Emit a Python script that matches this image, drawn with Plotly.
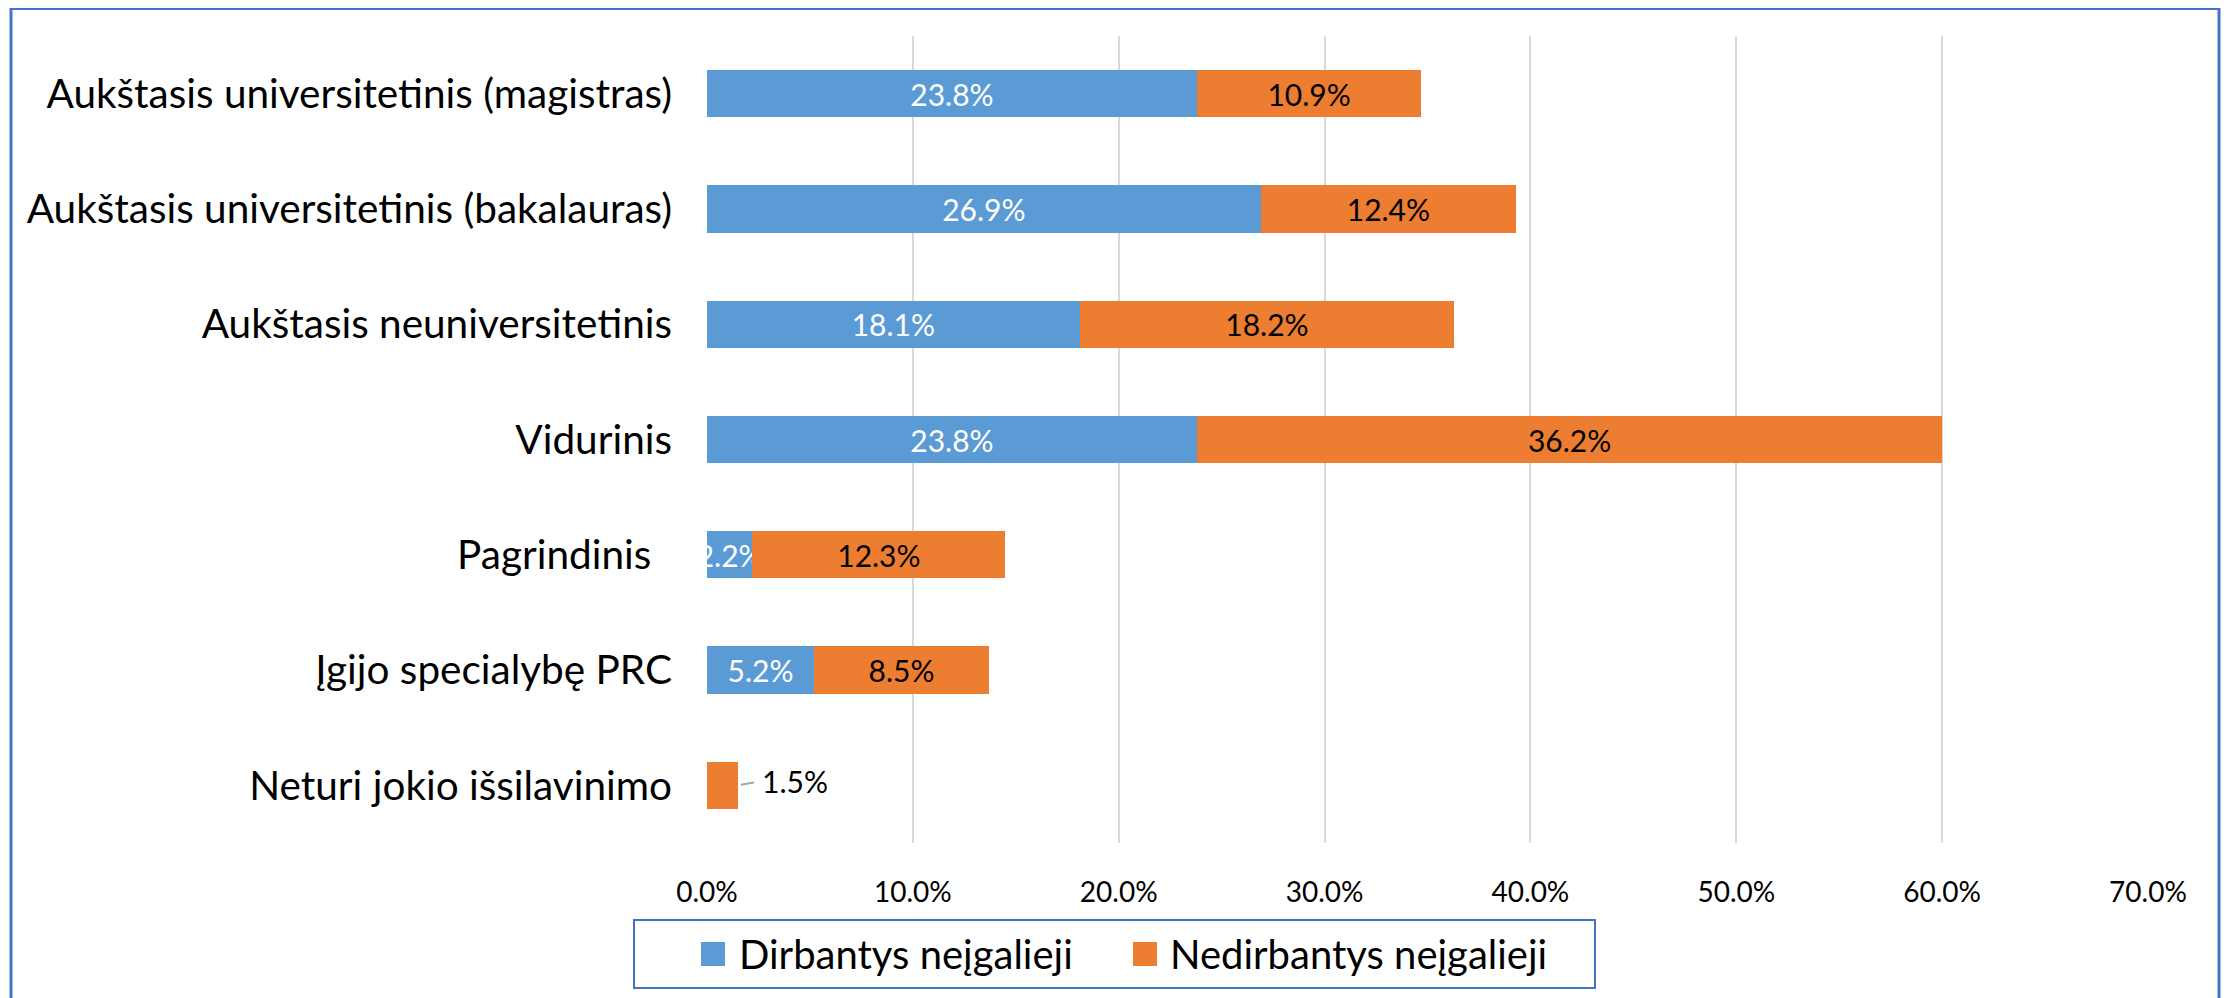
import plotly.graph_objects as go

categories = [
    "Neturi jokio išsilavinimo",
    "Įgijo specialybę PRC",
    "Pagrindinis",
    "Vidurinis",
    "Aukštasis neuniversitetinis",
    "Aukštasis universitetinis (bakalauras)",
    "Aukštasis universitetinis (magistras)",
]
tick_text = [
    "Neturi jokio išsilavinimo",
    "Įgijo specialybę PRC",
    "Pagrindinis\u00a0\u00a0",
    "Vidurinis",
    "Aukštasis neuniversitetinis",
    "Aukštasis universitetinis (bakalauras)",
    "Aukštasis universitetinis (magistras)",
]
dirbantys = [0.0, 5.2, 2.2, 23.8, 18.1, 26.9, 23.8]
nedirbantys = [1.5, 8.5, 12.3, 36.2, 18.2, 12.4, 10.9]
series_names = ["Dirbantys neįgalieji", "Nedirbantys neįgalieji"]
x_ticks = [0, 10, 20, 30, 40, 50, 60, 70]
x_tick_text = ["0.0%", "10.0%", "20.0%", "30.0%", "40.0%", "50.0%", "60.0%", "70.0%"]

FONT = "Lato"
BLUE = "#5B9BD5"
ORANGE = "#ED7D31"
BORDER = "#4472C4"

def labels(vals, outside_small=False):
    out = []
    for v in vals:
        if v == 0 or (outside_small and v < 2):
            out.append("")
        else:
            out.append(f"{v:.1f}%")
    return out

# figure geometry (page body has an 8px margin)
W, H = 2223, 990
L, T = 699, 28
PLOT_RIGHT, PLOT_BOTTOM = 2140, 835
R, B = W - PLOT_RIGHT, H - PLOT_BOTTOM
pw, ph = PLOT_RIGHT - L, PLOT_BOTTOM - T

def px_x(p):
    return (p - L) / pw

def px_y(p):
    return (PLOT_BOTTOM - p) / ph

fig = go.Figure()
fig.add_trace(go.Bar(
    y=categories, x=dirbantys, orientation="h", name=series_names[0],
    marker=dict(color=BLUE, line=dict(width=0)),
    text=labels(dirbantys), textposition="inside", insidetextanchor="middle",
    textangle=0, constraintext="none",
    textfont=dict(family=FONT, size=30, color="white"),
    showlegend=False,
))
fig.add_trace(go.Bar(
    y=categories, x=nedirbantys, orientation="h", name=series_names[1],
    marker=dict(color=ORANGE, line=dict(width=0)),
    text=labels(nedirbantys, outside_small=True), textposition="inside",
    insidetextanchor="middle", textangle=0, constraintext="none",
    textfont=dict(family=FONT, size=30, color="black"),
    showlegend=False,
))

# outside label with leader line for the tiny bar
for c, d, n in zip(categories, dirbantys, nedirbantys):
    if n < 2:
        fig.add_annotation(
            x=d + n, y=c, xref="x", yref="y", text=f"{n:.1f}%",
            showarrow=True, arrowhead=0, arrowwidth=2, arrowcolor="#A6A6A6",
            ax=22, ay=-4, xanchor="left", standoff=3, startstandoff=6,
            font=dict(family=FONT, size=30, color="black"),
        )

# outer chart border
fig.add_shape(type="rect", xref="paper", yref="paper",
              x0=px_x(3), x1=px_x(2211), y0=px_y(1000), y1=px_y(0.5),
              line=dict(color=BORDER, width=3), fillcolor="rgba(0,0,0,0)",
              layer="above")

# legend (drawn manually to match the square swatches)
fig.add_shape(type="rect", xref="paper", yref="paper",
              x0=px_x(626), x1=px_x(1587), y0=px_y(980), y1=px_y(912),
              line=dict(color=BORDER, width=2), fillcolor="white")
swatch_x = [693, 1125]
text_x = [729, 1160]
for name, col, sx, tx in zip(series_names, [BLUE, ORANGE], swatch_x, text_x):
    fig.add_shape(type="rect", xref="paper", yref="paper",
                  x0=px_x(sx), x1=px_x(sx + 24), y0=px_y(958), y1=px_y(934),
                  line=dict(width=0), fillcolor=col)
    fig.add_annotation(xref="paper", yref="paper", x=px_x(tx), y=px_y(946),
                       xanchor="left", yanchor="middle", showarrow=False,
                       text=name, font=dict(family=FONT, size=40, color="black"))

fig.update_layout(
    width=W, height=H,
    margin=dict(l=L, r=R, t=T, b=B, autoexpand=False),
    barmode="stack", bargap=0.59,
    plot_bgcolor="white", paper_bgcolor="white",
    font=dict(family=FONT, color="black"),
    showlegend=False,
    xaxis=dict(
        range=[0, 70], tickvals=x_ticks, ticktext=x_tick_text,
        showgrid=True, gridcolor="#D9D9D9", gridwidth=2,
        zeroline=False, showline=False,
        tickfont=dict(family=FONT, size=28, color="black"),
        ticks="", ticklabelstandoff=30, automargin=False,
    ),
    yaxis=dict(
        categoryorder="array", categoryarray=categories,
        tickvals=categories, ticktext=tick_text,
        showgrid=False, zeroline=False, showline=False,
        tickfont=dict(family=FONT, size=40.5, color="black"),
        ticks="", ticklabelstandoff=34, automargin=False,
    ),
)

fig.write_html("out.html")
